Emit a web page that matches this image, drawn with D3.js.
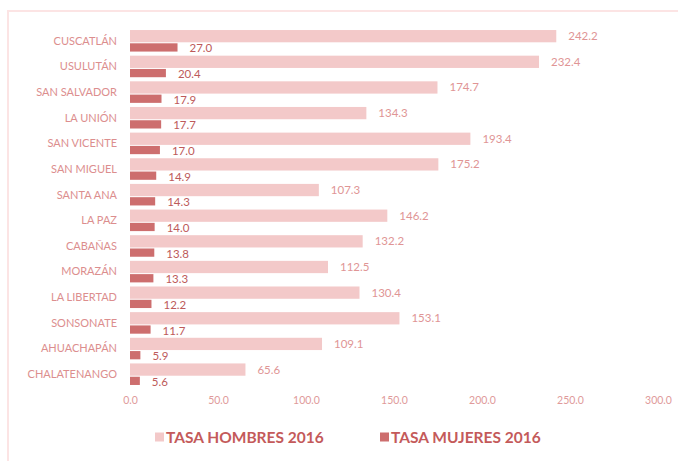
<!DOCTYPE html>
<html>
<head>
<meta charset="utf-8">
<script src="https://cdn.jsdelivr.net/npm/d3@7"></script>
<style>
  body { margin: 0; background: #fff; }
  svg { display: block; font-family: Lato, "Open Sans", sans-serif; }
</style>
</head>
<body>
<script>
// data
var departamentos = ["CUSCATLÁN", "USULUTÁN", "SAN SALVADOR", "LA UNIÓN", "SAN VICENTE", "SAN MIGUEL",
  "SANTA ANA", "LA PAZ", "CABAÑAS", "MORAZÁN", "LA LIBERTAD", "SONSONATE", "AHUACHAPÁN", "CHALATENANGO"];
var tasaHombres = [242.2, 232.4, 174.7, 134.3, 193.4, 175.2, 107.3, 146.2, 132.2, 112.5, 130.4, 153.1, 109.1, 65.6];
var tasaMujeres = [27.0, 20.4, 17.9, 17.7, 17.0, 14.9, 14.3, 14.0, 13.8, 13.3, 12.2, 11.7, 5.9, 5.6];
var xTicks = [0, 50, 100, 150, 200, 250, 300];
var seriesNames = ["TASA HOMBRES 2016", "TASA MUJERES 2016"];

var svgWidth = 678;
var svgHeight = 461;

var chartMargin = { top: 29, right: 20, bottom: 78, left: 130 };

var colorHombres = "#f3c9c9";
var colorMujeres = "#cd6e6e";

var svg = d3.select("body")
  .append("svg")
  .attr("width", svgWidth)
  .attr("height", svgHeight);

// faint chart frame
svg.append("rect")
  .attr("x", 8)
  .attr("y", 11)
  .attr("width", 700)
  .attr("height", 480)
  .attr("fill", "none")
  .attr("stroke", "#fce4e4")
  .attr("stroke-width", 2);

var xScale = d3.scaleLinear()
  .domain([0, 300])
  .range([chartMargin.left, 658]);

var yScale = d3.scaleBand()
  .domain(departamentos)
  .range([chartMargin.top, chartMargin.top + 25.5 * departamentos.length])
  .paddingInner(0.16)
  .paddingOuter(0.04);

var rows = departamentos.map(function(d, i) {
  return { name: d, h: tasaHombres[i], m: tasaMujeres[i] };
});

var band = yScale.bandwidth();
var hH = band * 0.57;
var mH = band - hH;

var groups = svg.selectAll(".row")
  .data(rows)
  .enter()
  .append("g")
  .attr("class", "row")
  .attr("transform", d => `translate(0, ${yScale(d.name)})`);

groups.append("rect")
  .attr("x", xScale(0))
  .attr("y", 0)
  .attr("width", d => xScale(d.h) - xScale(0))
  .attr("height", hH)
  .attr("fill", colorHombres);

groups.append("rect")
  .attr("x", xScale(0))
  .attr("y", hH + 1)
  .attr("width", d => xScale(d.m) - xScale(0))
  .attr("height", mH - 1)
  .attr("fill", colorMujeres);

// value labels
groups.append("text")
  .attr("x", d => xScale(d.h) + 12)
  .attr("y", hH / 2)
  .attr("dy", "0.35em")
  .attr("font-size", 11.5)
  .attr("fill", "#e09595")
  .text(d => d.h.toFixed(1));

groups.append("text")
  .attr("x", d => xScale(d.m) + 12)
  .attr("y", hH + mH / 2 + 1.5)
  .attr("dy", "0.35em")
  .attr("font-size", 11.5)
  .attr("fill", "#bd5a5a")
  .text(d => d.m.toFixed(1));

// category labels
svg.append("g")
  .selectAll("text")
  .data(departamentos)
  .enter()
  .append("text")
  .attr("x", 117)
  .attr("y", d => yScale(d) + band / 2)
  .attr("dy", "0.35em")
  .attr("text-anchor", "end")
  .attr("font-size", 11)
  .attr("fill", "#dc8e8e")
  .text(d => d);

// x axis (labels only)
var xAxis = d3.axisBottom(xScale)
  .tickValues(xTicks)
  .tickFormat(d3.format(".1f"))
  .tickSize(0)
  .tickPadding(0);

var axisG = svg.append("g")
  .attr("transform", "translate(0, 397)")
  .call(xAxis);
axisG.select(".domain").remove();
axisG.selectAll("text")
  .attr("font-family", "Lato, sans-serif")
  .attr("font-size", 10.5)
  .attr("fill", "#e09a9a");

// legend
var legendX = [155, 380];
var legend = svg.selectAll(".legend")
  .data(seriesNames)
  .enter()
  .append("g")
  .attr("class", "legend")
  .attr("transform", (d, i) => `translate(${legendX[i]}, 437)`);

legend.append("rect")
  .attr("x", 0)
  .attr("y", -4.5)
  .attr("width", 9)
  .attr("height", 9)
  .attr("fill", (d, i) => i === 0 ? colorHombres : colorMujeres);

legend.append("text")
  .attr("x", 11)
  .attr("y", 0)
  .attr("dy", "0.36em")
  .attr("font-size", 15.5)
  .attr("font-weight", "bold")
  .attr("fill", "#c45a5a")
  .text(d => d);
</script>
</body>
</html>
